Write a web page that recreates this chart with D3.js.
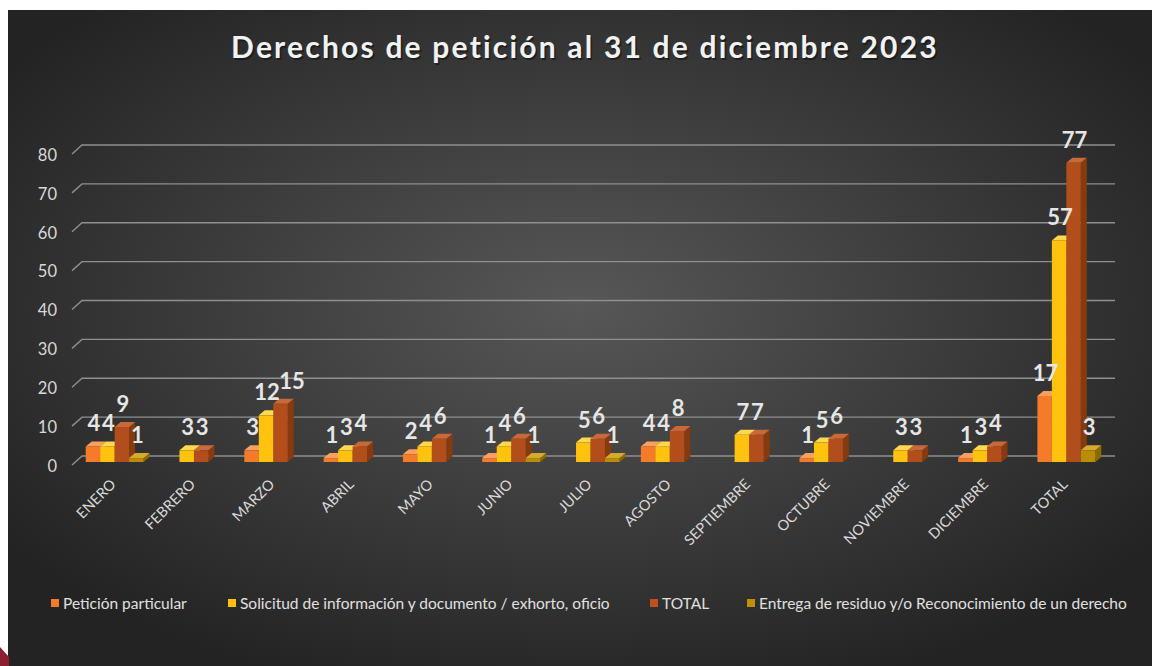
<!DOCTYPE html>
<html>
<head>
<meta charset="utf-8">
<script src="https://cdn.jsdelivr.net/npm/d3@7"></script>
<style>
  html, body { margin: 0; padding: 0; background: #fff; }
  svg { display: block; }
  text { font-family: Lato, "Open Sans", sans-serif; }
</style>
</head>
<body>
<div id="vis"></div>
<script>
// data
const title = "Derechos de petición al 31 de diciembre 2023";
const months = ["ENERO", "FEBRERO", "MARZO", "ABRIL", "MAYO", "JUNIO", "JULIO",
  "AGOSTO", "SEPTIEMBRE", "OCTUBRE", "NOVIEMBRE", "DICIEMBRE", "TOTAL"];
const seriesNames = ["Petición particular",
  "Solicitud de información y documento / exhorto, oficio",
  "TOTAL",
  "Entrega de residuo y/o Reconocimiento de un derecho"];
const peticion  = [4, 0, 3, 1, 2, 1, 0, 4, 0, 1, 0, 1, 17];
const solicitud = [4, 3, 12, 3, 4, 4, 5, 4, 7, 5, 3, 3, 57];
const total     = [9, 3, 15, 4, 6, 6, 6, 8, 7, 6, 3, 4, 77];
const entrega   = [1, 0, 0, 0, 0, 1, 1, 0, 0, 0, 0, 0, 3];
const yTicks = [0, 10, 20, 30, 40, 50, 60, 70, 80];

const seriesValues = [peticion, solicitud, total, entrega];
// front / top / side colours for the fake 3D bars
const palette = [
  { front: "#f47b2a", top: "#f9a060", side: "#c65c16", key: "#f47b2a" },
  { front: "#ffc20e", top: "#ffd84f", side: "#d8a200", key: "#ffc000" },
  { front: "#b14e1b", top: "#c8693a", side: "#873a0e", key: "#c0501e" },
  { front: "#bb8c05", top: "#d6ab2c", side: "#8d6a00", key: "#bf9000" },
];

const W = 1152, H = 666;
const depth = { dx: 6, dy: -5 };
const digitW = 12.5; // rough width of one bold label digit

const svg = d3.select("#vis").append("svg")
  .attr("width", W).attr("height", H);

const defs = svg.append("defs");
const bg = defs.append("radialGradient").attr("id", "bg")
  .attr("cx", "50%").attr("cy", "45%").attr("r", "62%");
bg.append("stop").attr("offset", "0%").attr("stop-color", "#575757");
bg.append("stop").attr("offset", "100%").attr("stop-color", "#232323");

// panel (white margin top/left like the screenshot)
svg.append("rect").attr("x", 8).attr("y", 10)
  .attr("width", W - 8).attr("height", H - 10).attr("fill", "url(#bg)");
svg.append("polygon")
  .attr("points", "0,647 9,657 9,666 0,666")
  .attr("fill", "#8c1f30");

// title (with a soft shadow copy)
[["#111", 0.6, 1.5], ["#f2f2f2", 1, 0]].forEach(([col, op, off]) => {
  svg.append("text")
    .attr("x", 585).attr("y", 58)
    .attr("text-anchor", "middle")
    .attr("font-size", 30).attr("font-weight", "bold")
    .attr("letter-spacing", 2.2)
    .attr("fill", col).attr("opacity", op)
    .attr("transform", `translate(${off},${off})`)
    .text(title);
});

// scales
const y = d3.scaleLinear().domain([0, 80]).range([462, 151]);
const x0 = d3.scaleBand().domain(months).range([75, 1106])
  .paddingInner(0.27).paddingOuter(0.135);
const x1 = d3.scaleBand().domain(d3.range(4)).range([0, x0.bandwidth()]);

// gridlines with the 3D floor offset
const grid = svg.append("g");
yTicks.forEach(t => {
  const gy = y(t) - 6;
  grid.append("path")
    .attr("d", `M72,${gy + 9}L82,${gy}L1115,${gy}`)
    .attr("fill", "none").attr("stroke", "#8f8f8f").attr("stroke-width", 1.4);
  grid.append("text")
    .attr("x", 57).attr("y", gy + 10).attr("dy", "0.35em")
    .attr("text-anchor", "end")
    .attr("font-size", 16.5).attr("fill", "#d9d9d9")
    .text(t);
});

// bars
const bars = svg.append("g");
const labels = svg.append("g");
months.forEach((m, i) => {
  let prev = null; // previous label box in this group
  seriesValues.forEach((vals, s) => {
    const v = vals[i];
    if (!v) return;
    const bx = x0(m) + x1(s), bw = x1.bandwidth();
    const top = y(v), base = y(0);
    const c = palette[s];
    bars.append("path") // side face
      .attr("d", `M${bx + bw},${base}L${bx + bw + depth.dx},${base + depth.dy}L${bx + bw + depth.dx},${top + depth.dy}L${bx + bw},${top}Z`)
      .attr("fill", c.side);
    bars.append("path") // top face
      .attr("d", `M${bx},${top}L${bx + depth.dx},${top + depth.dy}L${bx + bw + depth.dx},${top + depth.dy}L${bx + bw},${top}Z`)
      .attr("fill", c.top);
    bars.append("rect") // front face
      .attr("x", bx).attr("y", top)
      .attr("width", bw).attr("height", base - top)
      .attr("fill", c.front);

    // label: centred over the bar, nudged right if it would hit its neighbour
    const w = String(v).length * digitW;
    let lx = bx + bw / 2 + 1;
    const ly = top - 15;
    if (prev && Math.abs(prev.y - ly) < 18 && lx - w / 2 < prev.r) {
      lx = prev.r + w / 2;
    }
    prev = { r: lx + w / 2, y: ly };
    labels.append("text")
      .attr("x", lx).attr("y", ly)
      .attr("text-anchor", "middle")
      .attr("font-size", 22).attr("font-weight", "bold")
      .attr("fill", "#e6e6e6")
      .text(v);
  });
  // category label
  const cx = x0(m) + x0.bandwidth() / 2;
  svg.append("text")
    .attr("transform", `translate(${cx - 5},478) rotate(-45)`)
    .attr("text-anchor", "end").attr("dy", "0.7em")
    .attr("font-size", 14.5).attr("fill", "#d9d9d9")
    .text(m);
});

// legend
const legendX = [51, 228, 650, 747];
const legend = svg.append("g");
seriesNames.forEach((n, s) => {
  legend.append("rect")
    .attr("x", legendX[s]).attr("y", 599)
    .attr("width", 8).attr("height", 8)
    .attr("fill", palette[s].key);
  legend.append("text")
    .attr("x", legendX[s] + 12).attr("y", 609)
    .attr("font-size", 15.5).attr("fill", "#e0e0e0")
    .text(n);
});
</script>
</body>
</html>
